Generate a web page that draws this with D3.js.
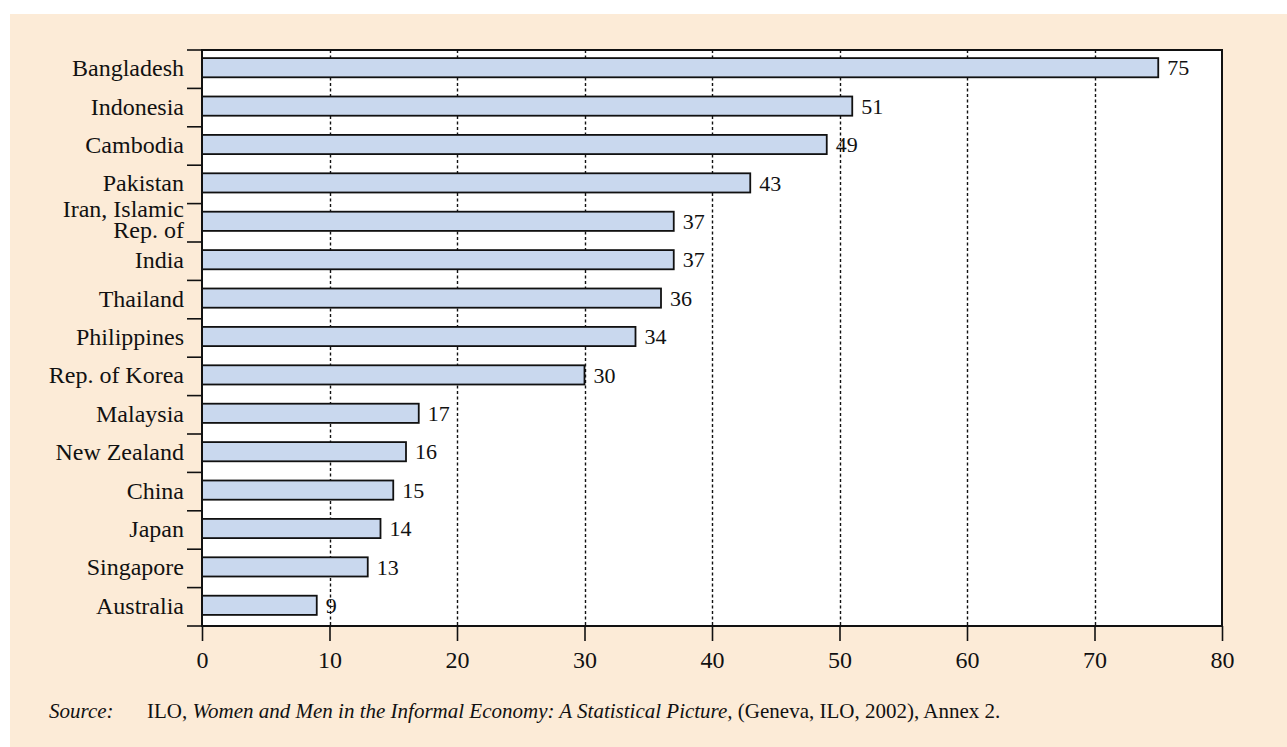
<!DOCTYPE html>
<html>
<head>
<meta charset="utf-8">
<script src="https://cdn.jsdelivr.net/npm/d3@7"></script>
<style>
  html, body { margin: 0; padding: 0; background: #ffffff; }
  svg { display: block; }
  text { font-family: "Liberation Serif", "Times New Roman", serif; fill: #111; }
</style>
</head>
<body>
<svg id="chart" width="1287" height="747"></svg>
<script>
// Women in informal employment, share (%) by country
const countries = ["Bangladesh", "Indonesia", "Cambodia", "Pakistan", "Iran, Islamic|Rep. of",
  "India", "Thailand", "Philippines", "Rep. of Korea", "Malaysia", "New Zealand",
  "China", "Japan", "Singapore", "Australia"];
const values = [75, 51, 49, 43, 37, 37, 36, 34, 30, 17, 16, 15, 14, 13, 9];
const xTicks = [0, 10, 20, 30, 40, 50, 60, 70, 80];

const svg = d3.select("#chart");
const W = 1287, H = 747;
const m = { left: 202, right: 1222, top: 50, bottom: 626 };

// page panel
svg.append("rect").attr("x", 10).attr("y", 14).attr("width", W - 10).attr("height", H - 14)
  .attr("fill", "#fcebd7");

const x = d3.scaleLinear().domain([0, 80]).range([m.left, m.right]);
const y = d3.scaleBand().domain(countries).range([m.top, m.bottom]).padding(0);
const barH = y.bandwidth() * 0.5;

// plot background
svg.append("rect").attr("x", m.left).attr("y", m.top)
  .attr("width", m.right - m.left).attr("height", m.bottom - m.top).attr("fill", "#ffffff");

// dotted vertical grid
svg.append("g").selectAll("line").data(xTicks.filter(t => t > 0 && t < 80)).join("line")
  .attr("x1", d => Math.round(x(d)) + 0.5).attr("x2", d => Math.round(x(d)) + 0.5)
  .attr("y1", m.top).attr("y2", m.bottom)
  .attr("stroke", "#111").attr("stroke-width", 1.4).attr("stroke-dasharray", "3,2.5");

// bars
svg.append("g").selectAll("rect").data(values).join("rect")
  .attr("x", x(0))
  .attr("y", (d, i) => y(countries[i]) + (y.bandwidth() - barH) / 2 - 1.5)
  .attr("width", d => x(d) - x(0))
  .attr("height", barH)
  .attr("fill", "#c9d8ee").attr("stroke", "#111").attr("stroke-width", 1.8);

// value labels
svg.append("g").selectAll("text").data(values).join("text")
  .attr("x", d => x(d) + 9)
  .attr("y", (d, i) => y(countries[i]) + y.bandwidth() / 2 - 1.5)
  .attr("dy", "0.35em")
  .attr("font-size", 22)
  .text(d => d);

// plot frame
svg.append("rect").attr("x", m.left).attr("y", m.top)
  .attr("width", m.right - m.left).attr("height", m.bottom - m.top)
  .attr("fill", "none").attr("stroke", "#111").attr("stroke-width", 2);

// y-axis ticks at band boundaries
const bounds = countries.map(c => y(c)).concat([m.bottom]);
svg.append("g").selectAll("line").data(bounds).join("line")
  .attr("x1", 187).attr("x2", m.left).attr("y1", d => d).attr("y2", d => d)
  .attr("stroke", "#111").attr("stroke-width", 1.6);

// category labels
const yl = svg.append("g").attr("text-anchor", "end").attr("font-size", 24);
countries.forEach(c => {
  const cy = y(c) + y.bandwidth() / 2 - 1.5;
  const parts = c.split("|");
  if (parts.length === 1) {
    yl.append("text").attr("x", 184).attr("y", cy).attr("dy", "0.35em").text(c);
  } else {
    yl.append("text").attr("x", 184).attr("y", cy - 4).text(parts[0]);
    yl.append("text").attr("x", 184).attr("y", cy + 17).text(parts[1]);
  }
});

// x axis
const xAxis = d3.axisBottom(x).tickValues(xTicks).tickSize(15).tickPadding(10).tickFormat(d3.format("d"));
const gx = svg.append("g").attr("transform", `translate(0,${m.bottom})`).call(xAxis);
gx.select(".domain").remove();
gx.selectAll(".tick line").attr("stroke", "#111").attr("stroke-width", 1.6);
gx.selectAll(".tick text").attr("font-size", 24).attr("font-family", "Liberation Serif, serif").attr("fill", "#111");

// source note
const src = svg.append("text").attr("x", 49).attr("y", 718).attr("font-size", 21);
src.append("tspan").attr("font-style", "italic").text("Source:");
src.append("tspan").attr("x", 97 + 50).text("ILO, ");
src.append("tspan").attr("font-style", "italic").text("Women and Men in the Informal Economy:  A Statistical Picture,");
src.append("tspan").text(" (Geneva, ILO, 2002), Annex 2.");
</script>
</body>
</html>
